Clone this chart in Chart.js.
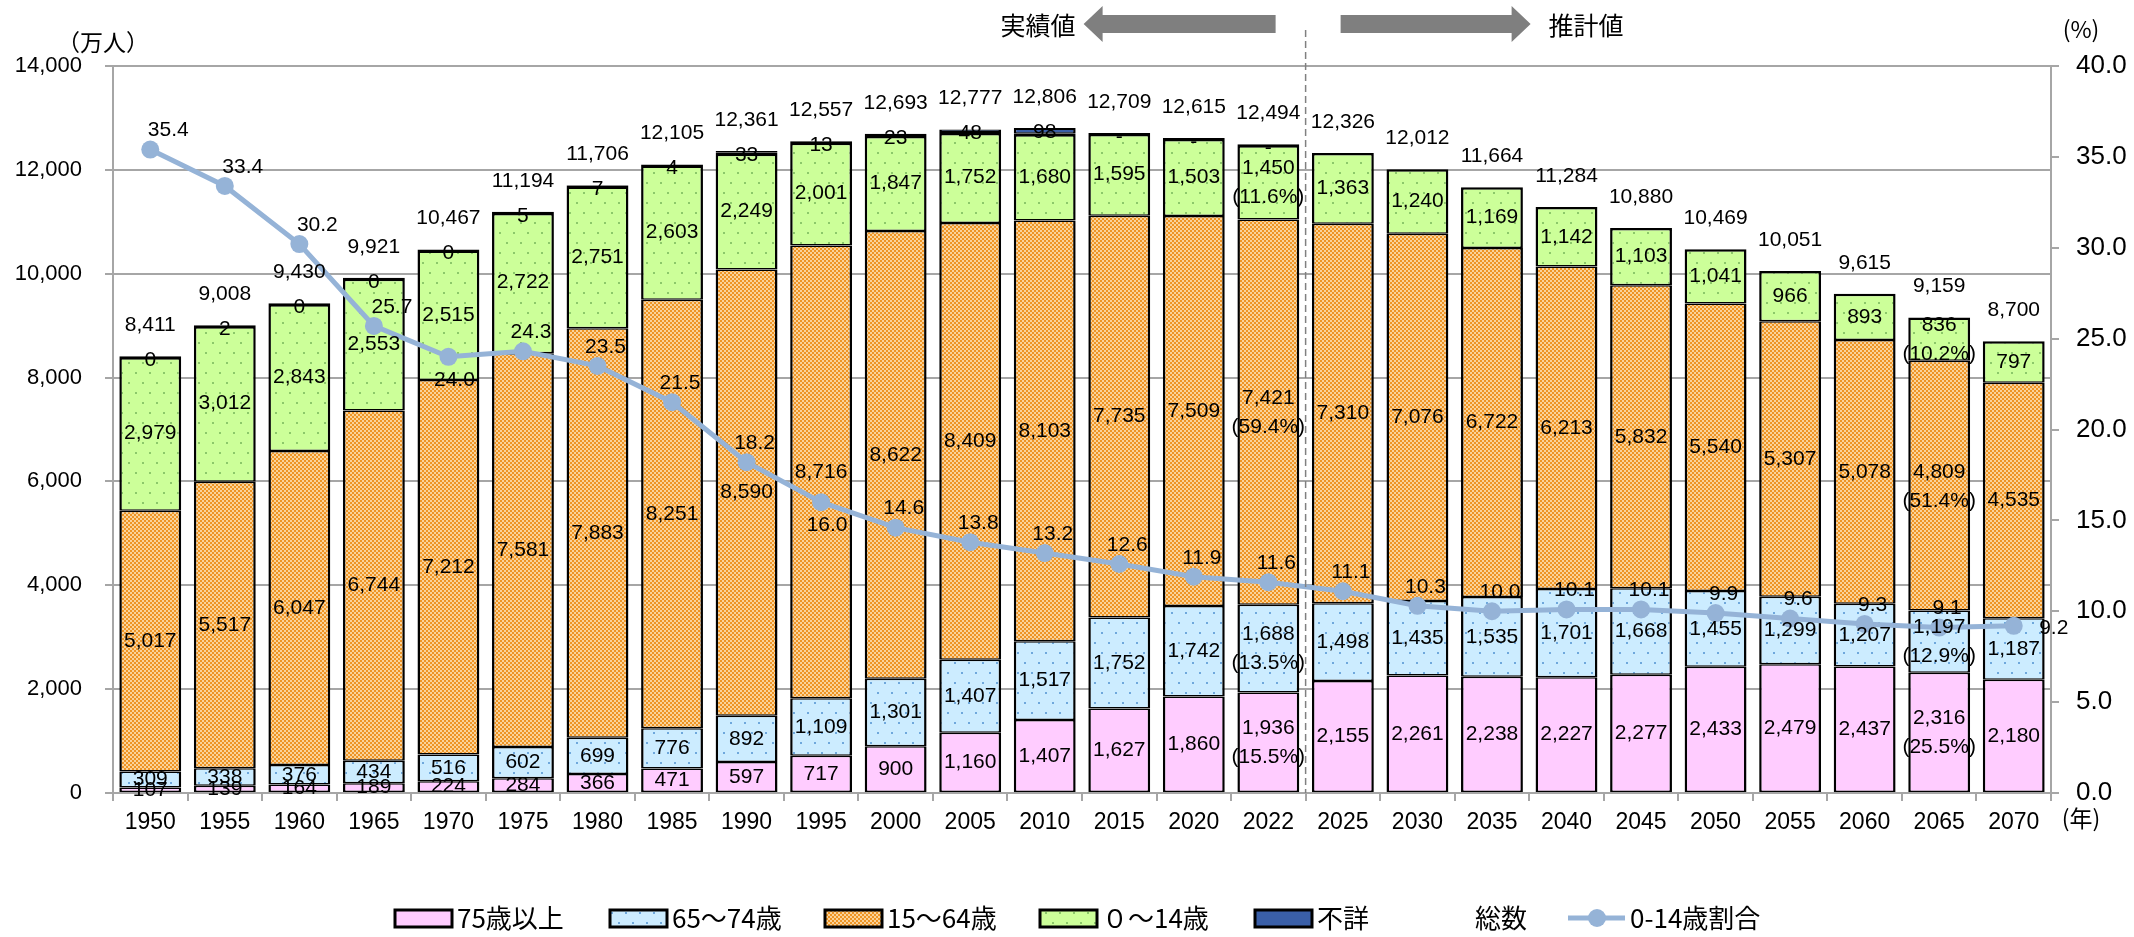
<!DOCTYPE html>
<html lang="ja">
<head>
<meta charset="utf-8">
<title>年齢区分別人口の推移</title>
<script src="https://cdn.jsdelivr.net/npm/chart.js@4.4.1/dist/chart.umd.min.js"></script>
<style>
  html, body { margin: 0; padding: 0; background: #fff; }
  canvas { display: block; }
</style>
</head>
<body>
<canvas id="popChart" width="2134" height="937"></canvas>
<script>
// 年齢区分別人口（万人）と0-14歳割合（%）
const years = ['1950', '1955', '1960', '1965', '1970', '1975', '1980', '1985', '1990', '1995',
  '2000', '2005', '2010', '2015', '2020', '2022',
  '2025', '2030', '2035', '2040', '2045', '2050', '2055', '2060', '2065', '2070'];
const firstProjection = '2025';

const over75 = [107, 139, 164, 189, 224, 284, 366, 471, 597, 717, 900, 1160, 1407, 1627, 1860, 1936,
  2155, 2261, 2238, 2227, 2277, 2433, 2479, 2437, 2316, 2180];
const age65to74 = [309, 338, 376, 434, 516, 602, 699, 776, 892, 1109, 1301, 1407, 1517, 1752, 1742, 1688,
  1498, 1435, 1535, 1701, 1668, 1455, 1299, 1207, 1197, 1187];
const age15to64 = [5017, 5517, 6047, 6744, 7212, 7581, 7883, 8251, 8590, 8716, 8622, 8409, 8103, 7735, 7509, 7421,
  7310, 7076, 6722, 6213, 5832, 5540, 5307, 5078, 4809, 4535];
const age0to14 = [2979, 3012, 2843, 2553, 2515, 2722, 2751, 2603, 2249, 2001, 1847, 1752, 1680, 1595, 1503, 1450,
  1363, 1240, 1169, 1142, 1103, 1041, 966, 893, 836, 797];
const unknownAge = [0, 2, 0, 0, 0, 5, 7, 4, 33, 13, 23, 48, 98, null, null, null,
  null, null, null, null, null, null, null, null, null, null];
const totals = [8411, 9008, 9430, 9921, 10467, 11194, 11706, 12105, 12361, 12557, 12693, 12777, 12806, 12709, 12615, 12494,
  12326, 12012, 11664, 11284, 10880, 10469, 10051, 9615, 9159, 8700];
const childRatio = [35.4, 33.4, 30.2, 25.7, 24.0, 24.3, 23.5, 21.5, 18.2, 16.0, 14.6, 13.8, 13.2, 12.6, 11.9, 11.6,
  11.1, 10.3, 10.0, 10.1, 10.1, 9.9, 9.6, 9.3, 9.1, 9.2];

// 構成比を併記する年
const shareYears = ['2022', '2065'];
const share75over = [15.5, 25.5];
const share65to74 = [13.5, 12.9];
const share15to64 = [59.4, 51.4];
const share0to14 = [11.6, 10.2];

const leftTicks = [0, 2000, 4000, 6000, 8000, 10000, 12000, 14000];
const rightTicks = [0, 5, 10, 15, 20, 25, 30, 35, 40];

const NUM_FONT = '"Liberation Sans", Arial, sans-serif';
const JP_FONT = '"Noto Sans CJK JP", "Noto Sans CJK SC", sans-serif';
const GRID = '#A6A6A6';

function dotted(bg, dot, w, h) {
  const c = document.createElement('canvas');
  c.width = w; c.height = h;
  const g = c.getContext('2d');
  g.fillStyle = bg;
  g.fillRect(0, 0, w, h);
  g.fillStyle = dot;
  g.fillRect(2, 2, 2, 2);
  g.fillRect(2 + w / 2, 2 + h / 2, 2, 2);
  return g.createPattern(c, 'repeat');
}

function checker(a, b) {
  const c = document.createElement('canvas');
  c.width = 4; c.height = 4;
  const g = c.getContext('2d');
  g.fillStyle = a;
  g.fillRect(0, 0, 4, 4);
  g.fillStyle = b;
  g.fillRect(0, 0, 2, 2);
  g.fillRect(2, 2, 2, 2);
  return g.createPattern(c, 'repeat');
}

const pinkFill = '#FFCCFF';
const blueFill = dotted('#CCECFF', '#6FA8DC', 14, 20);
const orangeFill = checker('#FAD39A', '#EE9424');
const greenFill = dotted('#CCFF99', '#8CC86A', 14, 20);
const navyFill = '#3A5FA8';
const lineColor = '#95B3D7';

const projIdx = years.indexOf(firstProjection);
const fmt = v => v.toLocaleString('en-US');

const segBorder = { top: 1.5, bottom: 1.5, left: 2.5, right: 2.5 };

function barSet(label, data, fill, shares, extra) {
  return Object.assign({
    type: 'bar',
    label,
    data,
    backgroundColor: fill,
    borderColor: '#000',
    borderWidth: segBorder,
    borderSkipped: false,
    barPercentage: 0.83,
    categoryPercentage: 1.0,
    stack: 'pop',
    yAxisID: 'y',
    order: 2,
    shares
  }, extra || {});
}

const datasets = [
  barSet('75歳以上', over75, pinkFill, share75over),
  barSet('65～74歳', age65to74, blueFill, share65to74),
  barSet('15～64歳', age15to64, orangeFill, share15to64),
  barSet('０～14歳', age0to14, greenFill, share0to14, {
    borderWidth: ctx => ctx.dataIndex < projIdx
      ? { top: 3.5, bottom: 1.5, left: 2.5, right: 2.5 }
      : { top: 2.5, bottom: 1.5, left: 2.5, right: 2.5 }
  }),
  barSet('不詳', unknownAge, navyFill, null, {
    borderWidth: { top: 2, bottom: 1, left: 2.5, right: 2.5 }
  }),
  {
    type: 'line',
    label: '総数',
    data: totals,
    showLine: false,
    pointRadius: 0,
    stack: 'total',
    yAxisID: 'y',
    order: 1
  },
  {
    type: 'line',
    label: '0-14歳割合',
    data: childRatio,
    borderColor: lineColor,
    backgroundColor: lineColor,
    borderWidth: 5,
    pointRadius: 9,
    pointBorderWidth: 0,
    pointBackgroundColor: lineColor,
    tension: 0,
    yAxisID: 'y1',
    order: 0
  }
];

// 値ラベル（各区分・不詳・総数・割合）
const valueLabels = {
  id: 'valueLabels',
  afterDatasetsDraw(chart) {
    const { ctx } = chart;
    ctx.save();
    ctx.fillStyle = '#000';
    ctx.textAlign = 'center';
    ctx.textBaseline = 'middle';
    ctx.font = '21px ' + NUM_FONT;

    for (let di = 0; di < 4; di++) {
      const ds = chart.data.datasets[di];
      chart.getDatasetMeta(di).data.forEach((bar, i) => {
        const cy = (bar.y + bar.base) / 2;
        const k = shareYears.indexOf(years[i]);
        if (k >= 0) {
          ctx.fillText(fmt(ds.data[i]), bar.x, cy - 14);
          ctx.fillText('(' + ds.shares[k].toFixed(1) + '%)', bar.x, cy + 15);
        } else {
          ctx.fillText(fmt(ds.data[i]), bar.x, cy);
        }
      });
    }

    const totalPts = chart.getDatasetMeta(5).data;
    totalPts.forEach((pt, i) => {
      ctx.fillText(fmt(totals[i]), pt.x, pt.y - 31);
      if (i < projIdx) {
        const v = unknownAge[i];
        ctx.fillText(v != null ? String(v) : '-', pt.x, pt.y + 4);
      }
    });

    const below = [4, 9];
    chart.getDatasetMeta(6).data.forEach((pt, i) => {
      let dx = 8, dy = -19;
      if (below.includes(i)) { dx = 6; dy = 23; }
      if (i < 4 && !below.includes(i)) dx = 18;
      if (i === years.length - 1) { dx = 40; dy = 2; }
      ctx.fillText(childRatio[i].toFixed(1), pt.x + dx, pt.y + dy);
    });
    ctx.restore();
  }
};

// 実績値／推計値の区切り、軸単位、凡例
const decorations = {
  id: 'decorations',
  afterDraw(chart) {
    const { ctx, chartArea, scales } = chart;
    const xd = (scales.x.getPixelForValue(projIdx - 1) + scales.x.getPixelForValue(projIdx)) / 2;
    ctx.save();

    ctx.strokeStyle = '#808080';
    ctx.lineWidth = 1.5;
    ctx.setLineDash([7, 4]);
    ctx.beginPath();
    ctx.moveTo(xd, 30);
    ctx.lineTo(xd, chartArea.bottom);
    ctx.stroke();
    ctx.setLineDash([]);

    ctx.fillStyle = '#7F7F7F';
    ctx.beginPath();
    ctx.moveTo(xd - 222, 24);
    ctx.lineTo(xd - 203, 6);
    ctx.lineTo(xd - 203, 15);
    ctx.lineTo(xd - 30, 15);
    ctx.lineTo(xd - 30, 33);
    ctx.lineTo(xd - 203, 33);
    ctx.lineTo(xd - 203, 42);
    ctx.closePath();
    ctx.fill();
    ctx.beginPath();
    ctx.moveTo(xd + 35, 15);
    ctx.lineTo(xd + 206, 15);
    ctx.lineTo(xd + 206, 6);
    ctx.lineTo(xd + 225, 24);
    ctx.lineTo(xd + 206, 42);
    ctx.lineTo(xd + 206, 33);
    ctx.lineTo(xd + 35, 33);
    ctx.closePath();
    ctx.fill();

    ctx.fillStyle = '#000';
    ctx.textBaseline = 'middle';
    ctx.font = '25px ' + JP_FONT;
    ctx.textAlign = 'right';
    ctx.fillText('実績値', xd - 230, 25);
    ctx.textAlign = 'left';
    ctx.fillText('推計値', xd + 243, 25);

    ctx.textAlign = 'center';
    ctx.font = '23px ' + JP_FONT;
    ctx.fillText('（万人）', 103, 42);
    ctx.fillText('(%)', 2081, 29);
    ctx.fillText('(年)', 2081, 818);

    // 凡例
    const ly = 918;
    ctx.font = '26px ' + JP_FONT;
    ctx.textAlign = 'left';
    for (let i = 0; i < 5; i++) {
      const ds = chart.data.datasets[i];
      const bx = 395 + i * 215;
      ctx.fillStyle = ds.backgroundColor;
      ctx.fillRect(bx, ly - 8, 57, 17);
      ctx.strokeStyle = '#000';
      ctx.lineWidth = 3;
      ctx.strokeRect(bx, ly - 8, 57, 17);
      ctx.fillStyle = '#000';
      ctx.fillText(ds.label, bx + 62, ly);
    }
    ctx.fillText(chart.data.datasets[5].label, 1475, ly);
    const rs = chart.data.datasets[6];
    ctx.strokeStyle = rs.borderColor;
    ctx.lineWidth = 5;
    ctx.beginPath();
    ctx.moveTo(1568, ly);
    ctx.lineTo(1625, ly);
    ctx.stroke();
    ctx.fillStyle = rs.pointBackgroundColor;
    ctx.beginPath();
    ctx.arc(1597, ly, 9, 0, Math.PI * 2);
    ctx.fill();
    ctx.fillStyle = '#000';
    ctx.fillText(rs.label, 1630, ly);
    ctx.restore();
  }
};

Chart.defaults.font.family = NUM_FONT;
Chart.defaults.color = '#000';

new Chart(document.getElementById('popChart'), {
  data: { labels: years, datasets },
  options: {
    responsive: false,
    animation: false,
    devicePixelRatio: 1,
    layout: { padding: { top: 66, left: 0, right: 0, bottom: 0 } },
    plugins: {
      legend: { display: false },
      tooltip: { enabled: false }
    },
    scales: {
      x: {
        stacked: true,
        offset: true,
        afterFit: s => { s.height = 144; },
        ticks: { font: { size: 23 }, padding: 8, maxRotation: 0, autoSkip: false },
        grid: { drawOnChartArea: false, offset: true, tickLength: 8, color: GRID, lineWidth: 2 },
        border: { color: GRID, width: 2 }
      },
      y: {
        stacked: true,
        min: leftTicks[0],
        max: leftTicks[leftTicks.length - 1],
        afterFit: s => { s.width = 113; },
        afterBuildTicks: s => { s.ticks = leftTicks.map(v => ({ value: v })); },
        ticks: { font: { size: 22 }, padding: 23, callback: v => fmt(v) },
        grid: { color: GRID, lineWidth: 2, tickLength: 8 },
        border: { color: GRID, width: 2 }
      },
      y1: {
        position: 'right',
        min: rightTicks[0],
        max: rightTicks[rightTicks.length - 1],
        afterFit: s => { s.width = 83; },
        afterBuildTicks: s => { s.ticks = rightTicks.map(v => ({ value: v })); },
        ticks: { font: { size: 26 }, padding: 17, callback: v => v.toFixed(1) },
        grid: { drawOnChartArea: false, color: GRID, lineWidth: 2, tickLength: 8 },
        border: { color: GRID, width: 2 }
      }
    }
  },
  plugins: [valueLabels, decorations]
});
</script>
</body>
</html>
